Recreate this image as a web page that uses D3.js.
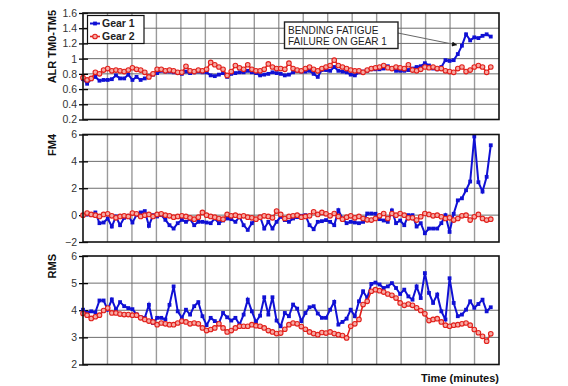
<!DOCTYPE html>
<html>
<head>
<meta charset="utf-8">
<script src="https://cdnjs.cloudflare.com/ajax/libs/d3/7.8.5/d3.min.js"></script>
<style>
  body { margin: 0; background: #fff; }
  text { font-family: "Liberation Sans", Arial, sans-serif; }
</style>
</head>
<body>
<div id="chart"></div>
<script>
// one reading per sample, gear 1 = blue squares, gear 2 = red circles
var seriesNames = ["Gear 1", "Gear 2"];

var alrGear1 = [0.73,0.67,0.73,0.76,0.71,0.72,0.72,0.73,0.78,0.74,
  0.74,0.79,0.72,0.76,0.72,0.74,0.76,0.79,0.81,0.84,
  0.83,0.83,0.82,0.81,0.80,0.83,0.81,0.82,0.83,0.82,
  0.82,0.78,0.77,0.79,0.81,0.76,0.80,0.81,0.82,0.82,
  0.84,0.82,0.81,0.78,0.79,0.80,0.82,0.81,0.80,0.78,
  0.79,0.82,0.84,0.83,0.83,0.84,0.80,0.76,0.85,0.85,
  0.84,0.89,0.84,0.83,0.82,0.79,0.78,0.82,0.83,0.84,
  0.86,0.86,0.86,0.87,0.90,0.87,0.84,0.84,0.84,0.85,
  0.87,0.89,0.90,0.94,0.91,0.87,0.86,0.89,0.98,0.97,
  0.98,1.06,1.17,1.32,1.24,1.28,1.27,1.30,1.32,1.29];
var alrGear2 = [0.75,0.72,0.74,0.82,0.80,0.85,0.87,0.84,0.85,0.84,
  0.83,0.85,0.88,0.86,0.85,0.82,0.76,0.80,0.86,0.86,
  0.84,0.85,0.84,0.82,0.82,0.90,0.84,0.83,0.85,0.84,
  0.86,0.95,0.92,0.89,0.86,0.78,0.83,0.91,0.88,0.86,
  0.92,0.86,0.84,0.84,0.86,0.93,0.89,0.87,0.87,0.86,
  0.94,0.87,0.85,0.84,0.87,0.89,0.86,0.84,0.87,0.89,
  0.91,0.98,0.91,0.89,0.87,0.85,0.84,0.84,0.82,0.85,
  0.87,0.88,0.89,0.91,0.88,0.87,0.89,0.88,0.87,0.92,
  0.85,0.84,0.86,0.89,0.88,0.89,0.87,0.87,0.84,0.83,
  0.82,0.87,0.89,0.83,0.85,0.89,0.91,0.89,0.82,0.89];

var fm4Gear1 = [0.0,0.05,0.0,0.2,-0.6,-0.55,-0.25,-0.85,-0.1,-0.75,
  -0.2,-0.05,-0.55,0.0,0.2,0.3,-0.8,0.0,-0.1,0.0,
  -0.35,-0.75,-1.0,-0.6,-0.35,-0.5,-0.3,-0.75,-0.5,-0.5,
  -0.55,-0.6,-0.25,-0.6,-0.4,-0.25,-0.3,-0.5,-0.12,-0.75,
  -1.1,-0.6,-0.3,-0.12,-1.0,-0.5,-1.0,-0.5,-0.12,-0.37,
  -0.5,-0.25,-0.15,-0.05,0.0,-0.75,-1.05,-0.5,-0.45,-0.37,
  -0.5,-0.75,0.37,-0.25,-0.6,-0.5,-0.55,-0.6,-0.5,0.12,
  0.12,0.1,-0.3,-0.4,-0.5,0.35,-0.6,-0.4,-0.75,0.0,
  0.0,-0.85,-0.6,-1.35,-1.0,-1.0,-1.0,-0.6,0.0,-1.25,
  0.1,1.1,1.25,1.85,2.5,5.85,2.45,1.75,2.85,5.2];
var fm4Gear2 = [0.0,0.15,0.05,0.0,-0.1,0.05,0.1,-0.05,-0.2,-0.1,
  -0.05,-0.1,0.15,0.1,-0.1,0.0,0.05,-0.1,0.05,0.1,
  0.0,-0.05,-0.15,-0.1,-0.05,-0.1,-0.2,-0.3,-0.15,0.2,
  0.0,-0.1,-0.15,-0.25,-0.3,0.05,-0.05,0.0,-0.1,-0.05,
  -0.15,-0.2,-0.3,-0.15,-0.05,-0.1,-0.2,0.3,0.05,-0.25,
  -0.1,-0.05,0.0,-0.15,-0.1,-0.05,0.25,0.05,0.2,0.1,
  -0.05,0.12,-0.1,-0.3,-0.15,-0.05,-0.2,-0.1,-0.25,-0.35,
  -0.37,-0.25,-0.05,0.12,-0.25,0.12,0.0,0.12,0.0,-0.2,
  -0.2,-0.37,-0.12,0.12,0.05,-0.05,0.0,-0.12,-0.25,-0.2,
  -0.37,-0.25,-0.05,0.0,-0.37,-0.12,0.05,-0.25,-0.37,-0.3];

var rmsGear1 = [4.02,3.9,3.96,3.92,4.36,4.36,4.02,4.4,4.02,4.3,
  4.15,4.08,4.04,3.85,3.75,3.72,4.2,3.53,3.72,3.72,
  3.66,4.2,4.88,3.96,3.72,4.02,3.84,4.15,4.3,3.78,
  3.45,3.72,3.6,3.53,3.9,3.74,3.62,3.72,3.47,3.84,
  4.39,3.96,3.57,3.8,4.48,3.84,4.48,3.62,3.41,3.9,
  3.78,4.21,4.06,3.6,3.9,4.11,4.15,3.88,3.72,3.72,
  4.02,4.31,3.47,3.57,3.69,4.02,3.78,4.33,4.7,4.45,
  4.97,5.02,4.95,4.82,4.88,5.0,4.82,4.6,4.76,4.51,
  4.39,4.88,4.45,5.37,4.64,4.27,4.58,3.96,3.66,5.18,
  4.27,3.78,3.84,4.02,4.33,4.09,4.23,4.39,3.96,4.11];
var rmsGear2 = [3.88,3.82,3.7,3.76,3.82,3.99,4.08,3.9,3.9,3.86,
  3.84,3.84,3.82,3.82,3.72,3.66,3.6,3.57,3.47,3.53,
  3.5,3.47,3.47,3.53,3.6,3.57,3.5,3.53,3.5,3.35,
  3.25,3.29,3.35,3.5,3.35,3.2,3.25,3.35,3.41,3.41,
  3.41,3.47,3.43,3.41,3.35,3.25,3.2,3.14,3.16,3.3,
  3.47,3.53,3.5,3.4,3.3,3.2,3.14,3.1,3.18,3.16,
  3.2,3.14,3.1,3.07,2.98,3.41,3.5,3.66,4.21,4.33,
  4.7,4.76,4.72,4.67,4.6,4.55,4.45,4.27,4.18,4.23,
  4.18,4.09,3.99,3.87,3.62,3.66,3.69,3.57,3.45,3.41,
  3.45,3.47,3.5,3.53,3.45,3.29,3.17,3.04,2.86,3.13];

var alrTicks = [0.2,0.4,0.6,0.8,1,1.2,1.4,1.6];
var fm4Ticks = [-2,0,2,4,6];
var rmsTicks = [2,3,4,5,6];

var panelLabels = ["ALR TM0-TM5", "FM4", "RMS"];
var noteLines = ["BENDING FATIGUE", "FAILURE ON GEAR 1"];
var xTitle = "Time (minutes)";

var blue = "#1010d4", red = "#e2211c", pink = "#f6aaa4";
var left = 83, right = 499;

var svg = d3.select("#chart").append("svg")
  .attr("width", 568).attr("height", 386);

var x = d3.scaleLinear().domain([0, 101]).range([left, right]);
var gridX = d3.scaleLinear().domain([0, 17]).range([left, right]);

var panels = [
  {top: 13, bottom: 119.5, ticks: alrTicks, g1: alrGear1, g2: alrGear2, label: panelLabels[0], ly: 10},
  {top: 134.5, bottom: 242, ticks: fm4Ticks, g1: fm4Gear1, g2: fm4Gear2, label: panelLabels[1], ly: 134},
  {top: 256, bottom: 364.5, ticks: rmsTicks, g1: rmsGear1, g2: rmsGear2, label: panelLabels[2], ly: 254}
];

function blueMark(sel, px, py) {
  sel.append("rect").attr("x", px - 1.9).attr("y", py - 1.9)
    .attr("width", 3.8).attr("height", 3.8).attr("fill", blue);
}

panels.forEach(function(p) {
  var g = svg.append("g");
  var y = d3.scaleLinear()
    .domain([p.ticks[0], p.ticks[p.ticks.length - 1]])
    .range([p.bottom, p.top]);

  // grid
  g.selectAll(".vg").data(d3.range(1, 17)).enter().append("line")
    .attr("x1", function(d) { return gridX(d); })
    .attr("x2", function(d) { return gridX(d); })
    .attr("y1", p.top).attr("y2", p.bottom)
    .attr("stroke", "#9a9a9a").attr("stroke-width", 1.4);
  g.selectAll(".hg").data(p.ticks.slice(1, -1)).enter().append("line")
    .attr("x1", left).attr("x2", right)
    .attr("y1", function(d) { return y(d); })
    .attr("y2", function(d) { return y(d); })
    .attr("stroke", "#6e6e6e").attr("stroke-width", 1);

  // y axis, ticks crossing the frame
  var ax = g.append("g").attr("transform", "translate(" + left + ",0)")
    .call(d3.axisLeft(y).tickValues(p.ticks).tickSize(4).tickPadding(2)
      .tickFormat(d3.format("~g")));
  ax.select(".domain").remove();
  ax.selectAll(".tick line").attr("x1", 5).attr("x2", -4)
    .attr("stroke", "#000").attr("stroke-width", 1.3);
  ax.selectAll(".tick text").attr("fill", "#333")
    .style("font-size", "10.5px").style("font-family", "'Liberation Sans', Arial, sans-serif");

  var line1 = d3.line().x(function(d, i) { return x(i); }).y(function(d) { return y(d); });

  g.append("path").datum(p.g1).attr("d", line1)
    .attr("fill", "none").attr("stroke", blue).attr("stroke-width", 2);
  p.g1.forEach(function(d, i) { blueMark(g, x(i), y(d)); });

  g.append("path").datum(p.g2).attr("d", line1)
    .attr("fill", "none").attr("stroke", red).attr("stroke-width", 1.6);
  g.selectAll(".ci").data(p.g2).enter().append("circle")
    .attr("cx", function(d, i) { return x(i); })
    .attr("cy", function(d) { return y(d); })
    .attr("r", 2.3).attr("fill", pink).attr("stroke", red).attr("stroke-width", 1.1);

  g.append("rect").attr("x", left).attr("y", p.top)
    .attr("width", right - left).attr("height", p.bottom - p.top)
    .attr("fill", "none").attr("stroke", "#111").attr("stroke-width", 1.6);

  g.append("text")
    .attr("transform", "translate(56," + p.ly + ") rotate(-90)")
    .attr("text-anchor", "end")
    .style("font-size", "11px").style("font-weight", "bold").attr("fill", "#111")
    .text(p.label);
});

// legend
var lg = svg.append("g");
lg.append("rect").attr("x", 87.5).attr("y", 15.5).attr("width", 56.5).attr("height", 28)
  .attr("fill", "#fff").attr("stroke", "#111").attr("stroke-width", 1.2);
[0, 1].forEach(function(k) {
  var cy = k == 0 ? 23.5 : 36.5;
  var c = k == 0 ? blue : red;
  lg.append("line").attr("x1", 90).attr("x2", 100).attr("y1", cy).attr("y2", cy)
    .attr("stroke", c).attr("stroke-width", k == 0 ? 2 : 1.6);
  if (k == 0) {
    blueMark(lg, 95, cy);
  } else {
    lg.append("circle").attr("cx", 95).attr("cy", cy).attr("r", 2.3)
      .attr("fill", pink).attr("stroke", red).attr("stroke-width", 1.1);
  }
  lg.append("text").attr("x", 102).attr("y", cy + 3.8)
    .style("font-size", "10.5px").style("font-weight", "bold").attr("fill", "#222")
    .text(seriesNames[k]);
});

// annotation with arrow
svg.append("defs").append("marker")
  .attr("id", "arrow").attr("viewBox", "0 0 10 10")
  .attr("refX", 10).attr("refY", 5)
  .attr("markerWidth", 7).attr("markerHeight", 5).attr("orient", "auto")
  .append("path").attr("d", "M0,0L10,5L0,10z").attr("fill", "#111");
svg.append("line").attr("x1", 398).attr("y1", 33).attr("x2", 457).attr("y2", 45)
  .attr("stroke", "#666").attr("stroke-width", 1).attr("marker-end", "url(#arrow)");
svg.append("rect").attr("x", 284.5).attr("y", 22).attr("width", 113.5).attr("height", 26.5)
  .attr("fill", "#fff").attr("stroke", "#222").attr("stroke-width", 1.4);
svg.selectAll(".note").data(noteLines).enter().append("text")
  .attr("x", 288).attr("y", function(d, i) { return 33.5 + i * 11.5; })
  .style("font-size", "10px").attr("fill", "#222")
  .text(function(d) { return d; });

svg.append("text").attr("x", 499).attr("y", 382).attr("text-anchor", "end")
  .style("font-size", "11px").style("font-weight", "bold").attr("fill", "#111")
  .text(xTitle);
</script>
</body>
</html>
